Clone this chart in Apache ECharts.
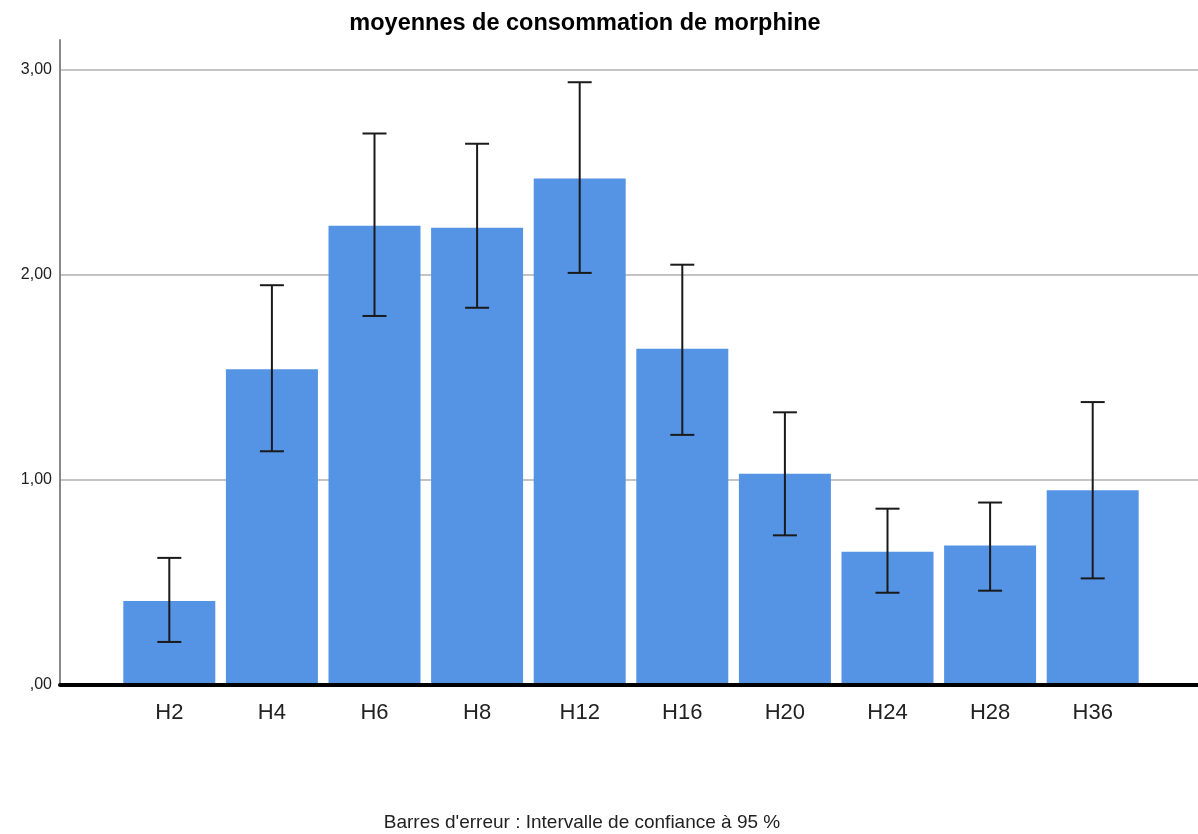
<!DOCTYPE html>
<html>
<head>
<meta charset="utf-8">
<script src="https://cdn.jsdelivr.net/npm/echarts@6/dist/echarts.min.js"></script>
<style>html,body{margin:0;padding:0;background:#fff}#c{width:1198px;height:834px}</style>
</head>
<body>
<div id="c"></div>
<script>
var categories = ['H2','H4','H6','H8','H12','H16','H20','H24','H28','H36'];
var means = [0.41, 1.54, 2.24, 2.23, 2.47, 1.64, 1.03, 0.65, 0.68, 0.95];
var lower = [0.21, 1.14, 1.80, 1.84, 2.01, 1.22, 0.73, 0.45, 0.46, 0.52];
var upper = [0.62, 1.95, 2.69, 2.64, 2.94, 2.05, 1.33, 0.86, 0.89, 1.38];
var yTicks = [1, 2, 3];

var YMAX = 3.146;
var chart = echarts.init(document.getElementById('c'));
var errData = categories.map(function (c, i) { return [i, lower[i], upper[i]]; });
var fontFam = '"Liberation Sans", Arial, sans-serif';

chart.setOption({
  animation: false,
  title: {
    text: 'moyennes de consommation de morphine',
    left: 580, top: 7, textAlign: 'center',
    textStyle: { fontFamily: fontFam, fontSize: 23.5, fontWeight: 'bold', color: '#000' }
  },
  graphic: [{
    type: 'text', x: 582, y: 823,
    style: { text: "Barres d'erreur : Intervalle de confiance à 95 %", fontFamily: fontFam, fontSize: 19, fill: '#222',
      textAlign: 'center', textVerticalAlign: 'middle' }
  }],
  grid: [
    { left: 60, right: 0, top: 40, bottom: 149 },
    { left: 118, right: 54, top: 40, bottom: 149 }
  ],
  xAxis: [
    { type: 'category', gridIndex: 0, data: [''], zlevel: 2, axisLine: { show: true, lineStyle: { color: '#000', width: 4 } }, axisTick: { show: false }, axisLabel: { show: false }, splitLine: { show: false } },
    { type: 'category', gridIndex: 1, data: categories, axisLine: { show: false }, axisTick: { show: false }, splitLine: { show: false },
      axisLabel: { fontFamily: fontFam, fontSize: 22, color: '#222', margin: 17 } }
  ],
  yAxis: [
    { type: 'value', gridIndex: 0, min: 0, max: YMAX, interval: 1,
      axisLine: { show: true, lineStyle: { color: '#888', width: 2 } }, axisTick: { show: false },
      splitLine: { show: false },
      axisLabel: { fontFamily: fontFam, fontSize: 16, color: '#222', margin: 8, showMaxLabel: false,
        verticalAlign: 'middle', padding: [8, 0, 0, 0],
        formatter: function (v) { return v === 0 ? ',00' : v.toFixed(2).replace('.', ','); } } },
    { type: 'value', gridIndex: 1, min: 0, max: YMAX, show: false, splitLine: { show: false } }
  ],
  series: [
    { type: 'custom', xAxisIndex: 0, yAxisIndex: 0, data: yTicks.map(function (t) { return [0, t]; }), z: 1, zlevel: 0, silent: true,
      renderItem: function (params, api) {
        var cs = params.coordSys;
        var y = Math.round(api.coord([0, api.value(1)])[1]);
        return { type: 'line', shape: { x1: cs.x + 1, y1: y, x2: cs.x + cs.width, y2: y },
          style: { stroke: '#c4c4c4', lineWidth: 2 } };
      } },
    { type: 'bar', xAxisIndex: 1, yAxisIndex: 1, data: means, barWidth: 92, z: 3, zlevel: 1,
      itemStyle: { color: '#5594E4', opacity: 1 } },
    { type: 'custom', xAxisIndex: 1, yAxisIndex: 1, data: errData, z: 4, zlevel: 1,
      renderItem: function (params, api) {
        var x = api.coord([api.value(0), 0])[0];
        var lo = api.coord([api.value(0), api.value(1)])[1];
        var hi = api.coord([api.value(0), api.value(2)])[1];
        var hw = 12;
        var st = { stroke: '#1a1a1a', lineWidth: 2 };
        return { type: 'group', children: [
          { type: 'line', shape: { x1: x, y1: hi, x2: x, y2: lo }, style: st },
          { type: 'line', shape: { x1: x - hw, y1: hi, x2: x + hw, y2: hi }, style: st },
          { type: 'line', shape: { x1: x - hw, y1: lo, x2: x + hw, y2: lo }, style: st }
        ] };
      } }
  ]
});
</script>
</body>
</html>
